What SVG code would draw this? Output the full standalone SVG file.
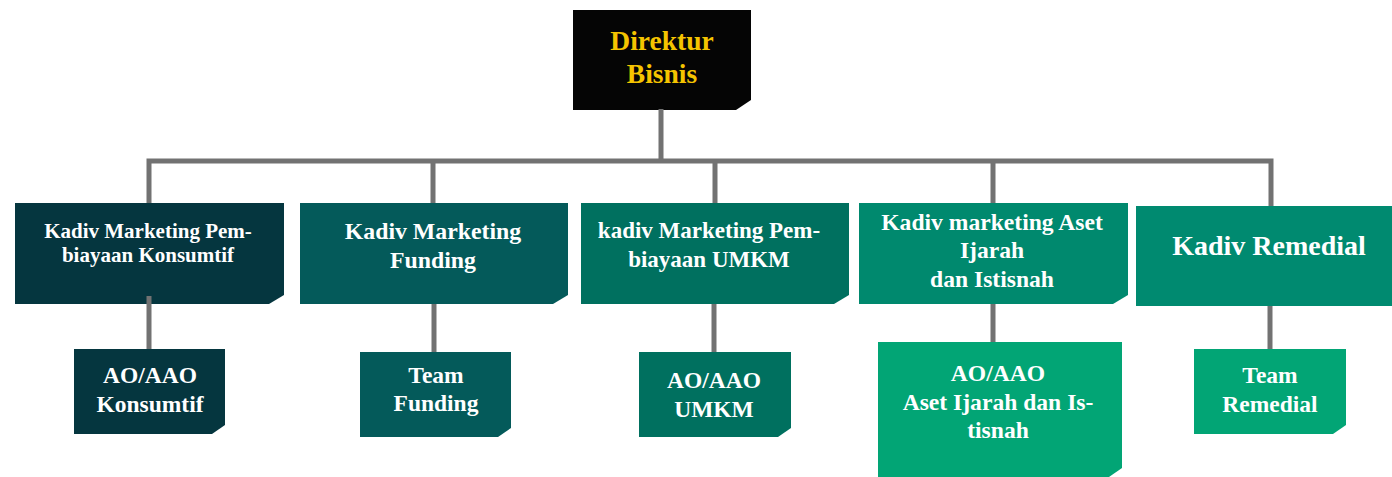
<svg xmlns="http://www.w3.org/2000/svg" width="1392" height="477" viewBox="0 0 1392 477">
<style>
.t{font-family:"Liberation Serif","Times New Roman",serif;font-weight:bold;fill:#ffffff;text-anchor:middle}
.c{stroke:#727272;stroke-width:5;fill:none}
</style>
<rect width="1392" height="477" fill="#ffffff"/>
<g id="direktur">
<path d="M573 10H751V100L736 110H573Z" fill="#050505"/>
<text class="t" x="662" y="50" font-size="27.5" style="fill:#f5c400">Direktur</text>
<text class="t" x="662" y="83" font-size="27.5" style="fill:#f5c400">Bisnis</text>
</g>
<g id="kadiv-konsumtif">
<path d="M15 203H284V295L269 304H15Z" fill="#05363f"/>
<text class="t" x="148" y="238" font-size="21">Kadiv Marketing Pem-</text>
<text class="t" x="148" y="262" font-size="21">biayaan Konsumtif</text>
</g>
<g id="kadiv-funding">
<path d="M300 203H568V295L553 304H300Z" fill="#045a5a"/>
<text class="t" x="433" y="239" font-size="23.8">Kadiv Marketing</text>
<text class="t" x="433" y="268" font-size="23.8">Funding</text>
</g>
<g id="kadiv-umkm">
<path d="M581 203H849V295L834 304H581Z" fill="#00705f"/>
<text class="t" x="709" y="238" font-size="23">kadiv Marketing Pem-</text>
<text class="t" x="709" y="267" font-size="23">biayaan UMKM</text>
</g>
<g id="kadiv-aset">
<path d="M859 203H1128V295L1113 304H859Z" fill="#00896e"/>
<text class="t" x="992" y="230" font-size="23.6">Kadiv marketing Aset</text>
<text class="t" x="992" y="258" font-size="23.6">Ijarah</text>
<text class="t" x="992" y="287" font-size="23.6">dan Istisnah</text>
</g>
<g id="kadiv-remedial">
<path d="M1136 206H1392V306H1136Z" fill="#008a70"/>
<text class="t" x="1269" y="255" font-size="28">Kadiv Remedial</text>
</g>
<g id="ao-konsumtif">
<path d="M74 349H225V425L212 434H74Z" fill="#05363f"/>
<text class="t" x="150" y="383" font-size="23.5">AO/AAO</text>
<text class="t" x="150" y="412" font-size="23.5">Konsumtif</text>
</g>
<g id="team-funding">
<path d="M360 352H511V428L498 437H360Z" fill="#045a5a"/>
<text class="t" x="436" y="383" font-size="23.5">Team</text>
<text class="t" x="436" y="411" font-size="23.5">Funding</text>
</g>
<g id="ao-umkm">
<path d="M639 352H791V428L778 437H639Z" fill="#00705f"/>
<text class="t" x="714" y="388" font-size="23.5">AO/AAO</text>
<text class="t" x="714" y="417" font-size="23.5">UMKM</text>
</g>
<g id="ao-aset">
<path d="M878 342H1122V468L1109 477H878Z" fill="#02a575"/>
<text class="t" x="998" y="381" font-size="23.6">AO/AAO</text>
<text class="t" x="998" y="410" font-size="23.6">Aset Ijarah dan Is-</text>
<text class="t" x="998" y="438" font-size="23.6">tisnah</text>
</g>
<g id="team-remedial">
<path d="M1194 349H1346V425L1333 434H1194Z" fill="#02a575"/>
<text class="t" x="1270" y="383" font-size="23.5">Team</text>
<text class="t" x="1270" y="412" font-size="23.5">Remedial</text>
</g>
<g id="connectors">
<path class="c" d="M661 109V161M146.5 161H1273.5M149 161V203M433 161V203M715 161V203M993 161V203M1271 161V206"/>
<path class="c" d="M149 296V349M434 304V352M714 304V352M993 304V342M1270 306V349"/>
</g>
</svg>
